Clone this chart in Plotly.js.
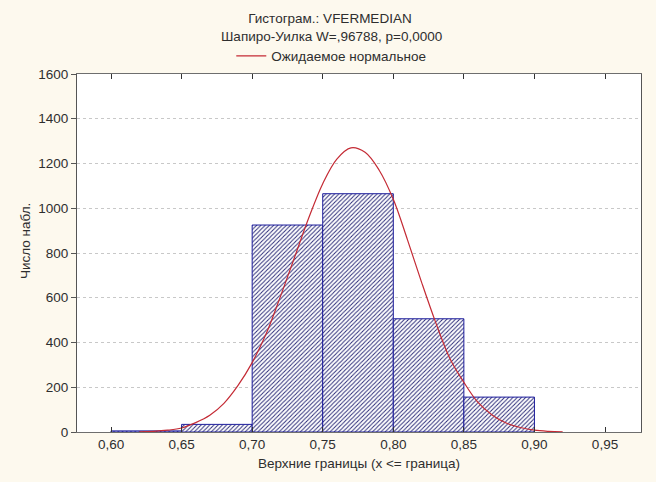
<!DOCTYPE html>
<html>
<head>
<meta charset="utf-8">
<script src="https://cdn.plot.ly/plotly-3.0.1.min.js"></script>
<style>
  html, body { margin: 0; padding: 0; background: #fdf9ee; }
  #chart { width: 656px; height: 482px; }
</style>
</head>
<body>
<div id="chart"></div>
<script>
// Histogram bins: upper bound of each class and its count
const binUpper = [0.65, 0.70, 0.75, 0.80, 0.85, 0.90];
const binCounts = [5, 34, 925, 1065, 506, 156];
const binWidth = 0.05;

// Expected normal curve, sampled along x
const curveX = [0.62, 0.63, 0.64, 0.65, 0.66, 0.67, 0.68, 0.69, 0.70, 0.71, 0.72,
                0.73, 0.74, 0.75, 0.76, 0.77, 0.78, 0.79, 0.80, 0.81, 0.82, 0.83,
                0.84, 0.85, 0.86, 0.87, 0.88, 0.89, 0.90, 0.91, 0.92];
const curveY = [1, 3, 8, 18, 42, 75, 128, 208, 310, 440, 605,
                780, 955, 1110, 1220, 1270, 1250, 1170, 1040, 860, 670, 490,
                330, 222, 132, 76, 40, 20, 8, 3, 1];

// Axis ticks
const xTickVals = [0.60, 0.65, 0.70, 0.75, 0.80, 0.85, 0.90, 0.95];
const xTickText = ['0,60', '0,65', '0,70', '0,75', '0,80', '0,85', '0,90', '0,95'];
const yTickVals = [0, 200, 400, 600, 800, 1000, 1200, 1400, 1600];

const titleText = 'Гистограм.: VFERMEDIAN';
const subtitleText = 'Шапиро-Уилка W=,96788, p=0,0000';
const curveName = 'Ожидаемое нормальное';

const W = 656, H = 482;
const fontFamily = '"Liberation Sans", Arial, sans-serif';
const fontSize = 13.5;
const textColor = '#2e2e2e';
const txtFont = { family: fontFamily, size: fontSize, color: textColor };

const bars = {
  type: 'bar',
  x: binUpper,
  y: binCounts,
  width: binWidth,
  offset: -binWidth,
  showlegend: false,
  hoverinfo: 'x+y',
  marker: {
    color: '#ffffff',
    line: { color: '#1c1c9c', width: 1 },
    pattern: {
      shape: '/',
      fgcolor: '#2a2a78',
      bgcolor: '#ffffff',
      size: 3,
      solidity: 0.33,
      fillmode: 'replace'
    }
  }
};

const curve = {
  type: 'scatter',
  mode: 'lines',
  x: curveX,
  y: curveY,
  name: curveName,
  line: { color: '#c42a34', width: 1.2, shape: 'spline', smoothing: 1 }
};

const layout = {
  width: W,
  height: H,
  paper_bgcolor: '#fdf9ee',
  plot_bgcolor: '#ffffff',
  font: txtFont,
  margin: { l: 77, r: 15, t: 74, b: 50, pad: 0 },
  bargap: 0,
  title: {
    text: titleText,
    font: txtFont,
    xref: 'container', x: 0.503, xanchor: 'center',
    yref: 'container', y: 1 - 18 / H, yanchor: 'middle'
  },
  annotations: [
    {
      text: subtitleText,
      showarrow: false,
      xref: 'paper', yref: 'paper',
      x: (331 - 77) / 564, xanchor: 'center',
      y: 1 + (74 - 37) / 358, yanchor: 'middle',
      font: txtFont
    },
    {
      // y axis title, placed slightly above the axis centre
      text: 'Число набл.',
      showarrow: false,
      textangle: -90,
      xref: 'paper', yref: 'paper',
      x: -(77 - 25) / 564, xanchor: 'center',
      y: (432 - 241) / 358, yanchor: 'middle',
      font: txtFont
    }
  ],
  showlegend: true,
  legend: {
    orientation: 'h',
    xref: 'container', x: 0.505, xanchor: 'center',
    yref: 'container', y: 1 - 56 / H, yanchor: 'middle',
    bgcolor: 'rgba(0,0,0,0)',
    font: txtFont,
    itemwidth: 30
  },
  xaxis: {
    range: [0.5759, 0.9755],
    tickmode: 'array',
    tickvals: xTickVals,
    ticktext: xTickText,
    ticks: 'inside',
    ticklen: 5,
    tickcolor: '#333333',
    showgrid: false,
    zeroline: false,
    showline: true,
    linecolor: '#6e6e6e',
    linewidth: 1,
    mirror: 'ticks',
    tickfont: txtFont,
    title: {
      text: 'Верхние границы (x <= граница)',
      font: txtFont,
      standoff: 7
    }
  },
  yaxis: {
    range: [0, 1600],
    tickmode: 'array',
    tickvals: yTickVals,
    tickformat: 'd',
    ticks: 'outside',
    ticklen: 5,
    tickcolor: '#555555',
    showgrid: true,
    gridcolor: '#c8c8c8',
    griddash: 'dot',
    gridwidth: 1,
    zeroline: false,
    showline: true,
    linecolor: '#555555',
    linewidth: 1,
    mirror: true,
    tickfont: txtFont
  }
};

Plotly.newPlot('chart', [bars, curve], layout, { displayModeBar: false, staticPlot: true });
</script>
</body>
</html>
